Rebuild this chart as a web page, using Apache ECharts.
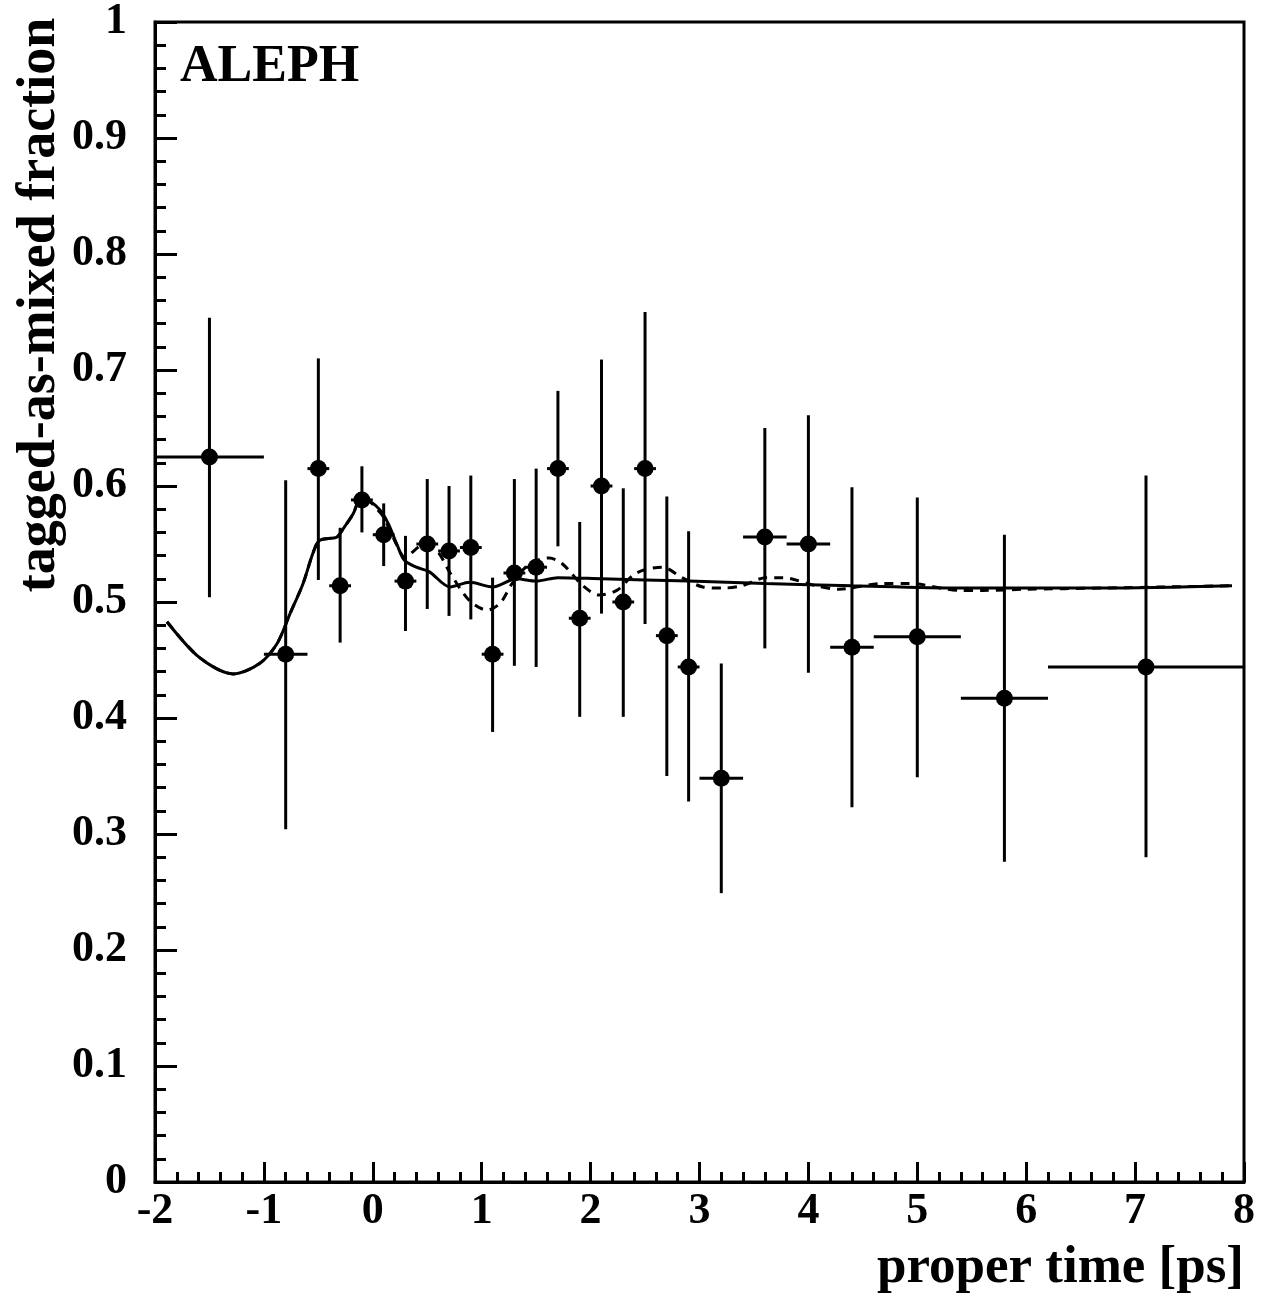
<!DOCTYPE html>
<html><head><meta charset="utf-8">
<script src="https://cdn.jsdelivr.net/npm/echarts@6/dist/echarts.min.js"></script>
<style>html,body{margin:0;padding:0;background:#fff}#c{width:1269px;height:1297px}</style>
</head><body><div id="c"></div>
<script>
// data points (bin centres, bin edges, fraction and its error range)
const xVals = [-1.5,-0.8,-0.5,-0.3,-0.1,0.1,0.3,0.5,0.7,0.9,1.1,1.3,1.5,1.7,1.9,2.1,2.3,2.5,2.7,2.9,3.2,3.6,4.0,4.4,5.0,5.8,7.1];
const xLo   = [-2,-1,-0.6,-0.4,-0.2,0,0.2,0.4,0.6,0.8,1.0,1.2,1.4,1.6,1.8,2.0,2.2,2.4,2.6,2.8,3.0,3.4,3.8,4.2,4.6,5.4,6.2];
const xHi   = [-1,-0.6,-0.4,-0.2,0,0.2,0.4,0.6,0.8,1.0,1.2,1.4,1.6,1.8,2.0,2.2,2.4,2.6,2.8,3.0,3.4,3.8,4.2,4.6,5.4,6.2,8.0];
const yVals = [0.625,0.455,0.615,0.514,0.588,0.558,0.518,0.550,0.544,0.547,0.455,0.525,0.530,0.615,0.486,0.600,0.500,0.615,0.471,0.444,0.348,0.556,0.550,0.461,0.470,0.417,0.444];
const yLo   = [0.504,0.304,0.519,0.465,0.560,0.531,0.475,0.494,0.488,0.485,0.388,0.445,0.444,0.548,0.401,0.490,0.401,0.481,0.350,0.328,0.249,0.460,0.439,0.323,0.349,0.276,0.280];
const yHi   = [0.745,0.605,0.710,0.564,0.617,0.585,0.557,0.606,0.600,0.609,0.521,0.606,0.615,0.682,0.569,0.709,0.598,0.750,0.591,0.561,0.447,0.650,0.661,0.599,0.590,0.558,0.609];

// solid fit curve
const solidX = [-1.89,-1.59,-1.28,-1.04,-0.88,-0.76,-0.64,-0.55,-0.49,-0.33,-0.28,-0.18,-0.12,-0.05,0.06,0.14,0.22,0.29,0.40,0.52,0.71,0.89,1.10,1.32,1.50,1.70,2.10,2.90,3.60,4.40,5.40,6.70,7.89];
const solidY = [0.483,0.452,0.438,0.447,0.464,0.490,0.516,0.542,0.553,0.556,0.562,0.576,0.587,0.587,0.580,0.568,0.550,0.536,0.530,0.526,0.513,0.517,0.513,0.520,0.518,0.521,0.520,0.518,0.516,0.514,0.512,0.512,0.514];
// dashed curve
const dashX = [-1.89,-1.59,-1.28,-1.04,-0.88,-0.76,-0.64,-0.55,-0.49,-0.33,-0.28,-0.18,-0.12,-0.05,0.04,0.10,0.20,0.30,0.35,0.46,0.59,0.71,0.89,1.05,1.17,1.28,1.44,1.62,1.74,1.93,2.08,2.24,2.42,2.66,2.84,3.03,3.21,3.39,3.61,3.76,4.07,4.28,4.68,4.93,5.39,5.60,6.00,6.70,7.89];
const dashY = [0.483,0.452,0.438,0.447,0.464,0.490,0.516,0.542,0.553,0.556,0.562,0.576,0.587,0.587,0.580,0.573,0.553,0.538,0.542,0.549,0.544,0.525,0.501,0.493,0.499,0.516,0.533,0.538,0.533,0.514,0.506,0.510,0.525,0.530,0.521,0.513,0.512,0.514,0.521,0.521,0.514,0.511,0.516,0.516,0.510,0.510,0.511,0.512,0.514];

const FONT = 'Liberation Serif';
const errData = xVals.map((x,i)=>[x,yVals[i],xLo[i],xHi[i],yLo[i],yHi[i]]);
const ptData = xVals.map((x,i)=>[x,yVals[i]]);

const chart = echarts.init(document.getElementById('c'), null, {renderer:'canvas'});
chart.setOption({
  animation:false,
  backgroundColor:'#fff',
  grid:{left:155,right:25,top:21,bottom:115,show:true,borderColor:'#000',borderWidth:3,backgroundColor:'transparent'},
  xAxis:{type:'value',min:-2,max:8,interval:1,
    axisLine:{onZero:false,lineStyle:{color:'#000',width:3}},
    axisTick:{inside:true,length:20,lineStyle:{color:'#000',width:3}},
    minorTick:{show:true,splitNumber:5,length:10,lineStyle:{color:'#000',width:3}},
    splitLine:{show:false},
    axisLabel:{color:'#000',fontFamily:FONT,fontWeight:'bold',fontSize:44,margin:8}
  },
  yAxis:{type:'value',min:0,max:1,interval:0.1,
    axisLine:{onZero:false,lineStyle:{color:'#000',width:3}},
    axisTick:{inside:true,length:22,lineStyle:{color:'#000',width:3}},
    minorTick:{show:true,splitNumber:5,length:11,lineStyle:{color:'#000',width:3}},
    splitLine:{show:false},
    axisLabel:{color:'#000',fontFamily:FONT,fontWeight:'bold',fontSize:44,margin:28,
      formatter:v=>String(Math.round(v*10)/10)}
  },
  graphic:[
    {type:'text',left:180,top:42,style:{text:'ALEPH',font:'bold 52px "Liberation Serif"',fill:'#000'}},
    {type:'text',x:40,y:305,rotation:Math.PI/2,style:{text:'tagged-as-mixed fraction',font:'bold 54px "Liberation Serif"',fill:'#000',align:'center',verticalAlign:'middle'}},
    {type:'text',x:1244,y:1268,style:{text:'proper time [ps]',font:'bold 53px "Liberation Serif"',fill:'#000',align:'right',verticalAlign:'middle'}}
  ],
  series:[
    {type:'line',data:solidX.map((x,i)=>[x,solidY[i]]),smooth:0.3,showSymbol:false,
      lineStyle:{color:'#000',width:3},z:3},
    {type:'line',data:dashX.map((x,i)=>[x,dashY[i]]),smooth:0.3,showSymbol:false,
      lineStyle:{color:'#000',width:3,type:[9,7]},z:2},
    {type:'custom',data:errData,z:4,
      renderItem:(params,api)=>{
        const x=api.value(0),y=api.value(1),xl=api.value(2),xh=api.value(3),yl=api.value(4),yh=api.value(5);
        const a=api.coord([x,yl]),b=api.coord([x,yh]),c=api.coord([xl,y]),d=api.coord([xh,y]);
        const st={stroke:'#000',lineWidth:3};
        return {type:'group',children:[
          {type:'line',shape:{x1:a[0],y1:a[1],x2:b[0],y2:b[1]},style:st},
          {type:'line',shape:{x1:c[0],y1:c[1],x2:d[0],y2:d[1]},style:st}
        ]};
      }},
    {type:'scatter',data:ptData,symbol:'circle',symbolSize:17,itemStyle:{color:'#000',opacity:1},z:5}
  ]
});
</script></body></html>
